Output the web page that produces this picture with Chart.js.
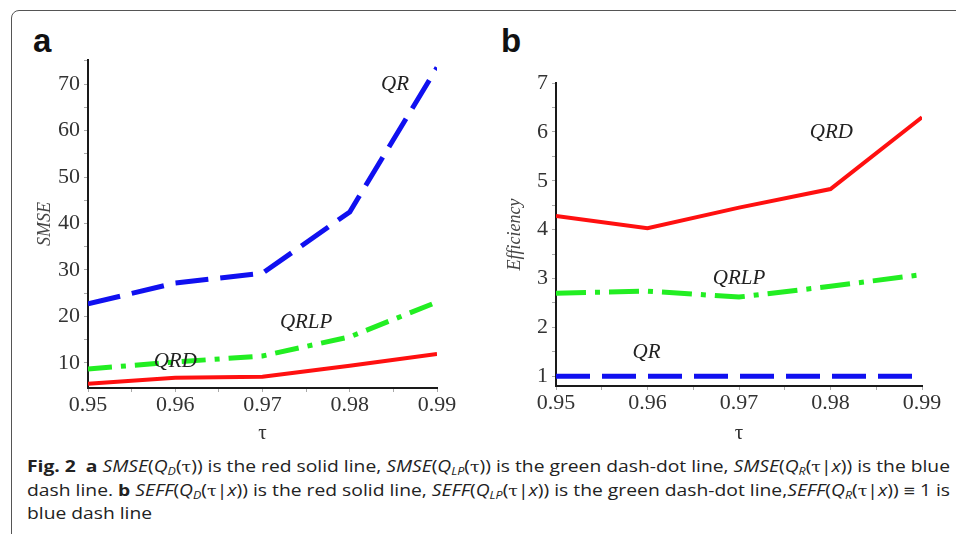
<!DOCTYPE html>
<html>
<head>
<meta charset="utf-8">
<script src="https://cdn.jsdelivr.net/npm/chart.js@4.4.0/dist/chart.umd.min.js"></script>
<style>
  html, body { margin: 0; padding: 0; background: #fff; }
  #page { position: relative; width: 956px; height: 534px; overflow: hidden; background: #fff; }
  #frame { position: absolute; left: 11px; top: 10px; width: 960px; height: 540px;
           border: 1.5px solid #555; border-radius: 8px; box-sizing: border-box; }
  .tag { position: absolute; font: bold 33px "Liberation Sans", Arial, sans-serif; color: #111; }
  .panel { position: absolute; }
  #caption { position: absolute; left: 27px; top: 455px; font-family: "Open Sans", sans-serif;
             font-size: 15.5px; color: #222; }
  #caption .ln { white-space: nowrap; height: 23.5px; line-height: 23.5px; transform-origin: 0 50%; }
  #caption .m { font-family: "DejaVu Serif", serif; font-size: 14px; }
  #caption sub { font-size: 10px; vertical-align: -3px; line-height: 0; }
</style>
</head>
<body>
<div id="page">
  <div id="frame"></div>
  <div class="tag" style="left:33px; top:22px;">a</div>
  <div class="tag" style="left:501px; top:22px;">b</div>
  <div class="panel" style="left:20px; top:40px; width:440px; height:410px;"><canvas id="chartA"></canvas></div>
  <div class="panel" style="left:490px; top:40px; width:460px; height:410px;"><canvas id="chartB"></canvas></div>
  <div id="caption">
    <div class="ln"><b>Fig. 2</b>&nbsp; <b>a</b> <i>SMSE</i>(<i>Q<sub>D</sub></i>(<span class="m">τ</span>)) is the red solid line, <i>SMSE</i>(<i>Q<sub>LP</sub></i>(<span class="m">τ</span>)) is the green dash-dot line, <i>SMSE</i>(<i>Q<sub>R</sub></i>(<span class="m">τ</span>|<i>x</i>)) is the blue</div>
    <div class="ln">dash line. <b>b</b> <i>SEFF</i>(<i>Q<sub>D</sub></i>(<span class="m">τ</span>|<i>x</i>)) is the red solid line, <i>SEFF</i>(<i>Q<sub>LP</sub></i>(<span class="m">τ</span>|<i>x</i>)) is the green dash-dot line,<i>SEFF</i>(<i>Q<sub>R</sub></i>(<span class="m">τ</span>|<i>x</i>)) ≡ 1 is</div>
    <div class="ln">blue dash line</div>
  </div>
</div>

<script>
// ---------------- DATA ----------------
const taus = [0.95, 0.96, 0.97, 0.98, 0.99];
const xTickLabels = ["0.95", "0.96", "0.97", "0.98", "0.99"];

// panel a : SMSE
const smseQRD  = [5.5, 6.8, 7.0, 9.4, 11.9];
const smseQRLP = [8.7, 10.2, 11.5, 15.6, 23.1];
const smseQR   = [22.7, 27.2, 29.3, 42.5, 73.6];
const smseTicks = [10, 20, 30, 40, 50, 60, 70];

// panel b : efficiency
const effQRD  = [4.28, 4.03, 4.45, 4.83, 6.30];
const effQRLP = [2.70, 2.74, 2.62, 2.84, 3.08];
const effQR   = [1, 1, 1, 1, 1];
const effTicks = [1, 2, 3, 4, 5, 6, 7];

// curve names, placed in data space
const namesA = [
  { text: "QR",   x: 0.9852, y: 70 },
  { text: "QRLP", x: 0.975,  y: 18.8 },
  { text: "QRD",  x: 0.960,  y: 10.2 },
];
const namesB = [
  { text: "QRD",  x: 0.9801, y: 5.98 },
  { text: "QRLP", x: 0.970,  y: 3.0 },
  { text: "QR",   x: 0.9599, y: 1.49 },
];

// ---------------- STYLE ----------------
const RED = "#ff1010";
const GREEN = "#22ee22";
const BLUE = "#1010f0";
const serif = "'Liberation Serif', 'Times New Roman', serif";

// minor ticks halfway between majors
function withMinor(major) {
  const out = [];
  major.forEach((v, i) => {
    if (i > 0) out.push((major[i - 1] + v) / 2);
    out.push(v);
  });
  return out;
}

const curveNames = {
  id: "curveNames",
  afterDatasetsDraw(chart, args, opts) {
    const ctx = chart.ctx;
    ctx.save();
    ctx.font = "italic 21px " + serif;
    ctx.fillStyle = "#222";
    ctx.textAlign = "center";
    ctx.textBaseline = "middle";
    opts.items.forEach(n => {
      ctx.fillText(n.text, chart.scales.x.getPixelForValue(n.x), chart.scales.y.getPixelForValue(n.y));
    });
    ctx.restore();
  }
};

function line(data, color, width, dash) {
  return {
    data: taus.map((t, i) => ({ x: t, y: data[i] })),
    borderColor: color,
    borderWidth: width,
    borderDash: dash,
    pointRadius: 0,
    tension: 0,
    fill: false,
    borderCapStyle: "butt",
  };
}

function makeChart(id, datasets, cfg) {
  const yAll = withMinor(cfg.yMajor);
  if (cfg.yExtra !== undefined) yAll.push(cfg.yExtra);
  const xAll = withMinor(taus);
  return new Chart(document.getElementById(id), {
    type: "line",
    data: { datasets },
    options: {
      responsive: true,
      maintainAspectRatio: false,
      animation: false,
      layout: { padding: cfg.padding },
      plugins: { legend: { display: false }, tooltip: { enabled: false }, curveNames: { items: cfg.names } },
      scales: {
        x: {
          type: "linear",
          min: taus[0],
          max: taus[taus.length - 1],
          afterBuildTicks: s => { s.ticks = xAll.map(v => ({ value: v })); },
          afterFit: s => { s.height = cfg.xHeight; },
          border: { display: true, color: "#1a1a1a", width: 2 },
          grid: { drawOnChartArea: false, drawTicks: true, tickLength: 4, color: "#aaa" },
          ticks: {
            padding: 0,
            color: "#333",
            font: { family: serif, size: 22 },
            maxRotation: 0,
            autoSkip: false,
            callback: v => {
              const i = taus.findIndex(t => Math.abs(t - v) < 1e-6);
              return i >= 0 ? xTickLabels[i] : "";
            }
          },
          title: { display: true, text: "τ", color: "#333", font: { family: serif, size: 21 }, padding: { top: 0, bottom: 4 } },
        },
        y: {
          min: cfg.yMin,
          max: cfg.yMax,
          afterBuildTicks: s => { s.ticks = yAll.map(v => ({ value: v })); },
          afterFit: s => { s.width = cfg.yWidth; },
          border: { display: true, color: "#1a1a1a", width: 2 },
          grid: { drawOnChartArea: false, drawTicks: true, tickLength: 4, color: "#aaa" },
          ticks: {
            padding: 4,
            color: "#333",
            font: { family: serif, size: 22 },
            autoSkip: false,
            callback: v => (cfg.yMajor.includes(v) ? String(v) : ""),
          },
          title: { display: true, text: cfg.yTitle, color: "#444", font: { family: serif, size: 18, style: "italic" }, padding: { top: 14, bottom: 0 } },
        },
      },
    },
    plugins: [curveNames],
  });
}

makeChart("chartA", [
  line(smseQRD, RED, 4, []),
  line(smseQRLP, GREEN, 5, [24, 9, 5, 9]),
  line(smseQR, BLUE, 5, [33, 12]),
], {
  yMin: 4.6, yMax: 75.2, yMajor: smseTicks, yExtra: 75,
  yTitle: "SMSE", names: namesA,
  yWidth: 68, xHeight: 62,
  padding: { top: 20, right: 23, bottom: 0, left: 0 },
});

makeChart("chartB", [
  line(effQRD, RED, 4, []),
  line(effQRLP, GREEN, 5, [30, 9, 5, 9]),
  line(effQR, BLUE, 5, [34, 12]),
], {
  yMin: 0.8, yMax: 7, yMajor: effTicks,
  yTitle: "Efficiency", names: namesB,
  yWidth: 66, xHeight: 64,
  padding: { top: 43, right: 28, bottom: 0, left: 0 },
});

// ---------------- CAPTION FIT ----------------
const lines = document.querySelectorAll("#caption .ln");
const target = 923;
let k1 = 1;
lines.forEach((ln, i) => {
  const span = document.createElement("span");
  span.innerHTML = ln.innerHTML;
  span.style.whiteSpace = "nowrap";
  ln.innerHTML = "";
  ln.appendChild(span);
  const natural = span.getBoundingClientRect().width;
  let k = target / natural;
  if (i === 0) k1 = k;
  if (i === 2) k = k1;
  ln.style.transform = "scaleX(" + k + ")";
});
</script>
</body>
</html>
